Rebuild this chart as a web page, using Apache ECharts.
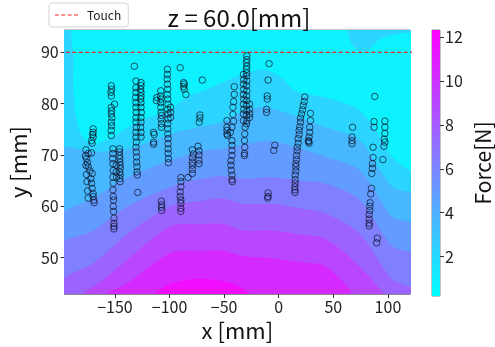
<!DOCTYPE html>
<html>
<head>
<meta charset="utf-8">
<title>z = 60.0[mm]</title>
<script src="https://cdn.jsdelivr.net/npm/echarts@6/dist/echarts.min.js"></script>
<style>html, body { margin: 0; padding: 0; background: #fff; }</style>
</head>
<body>
<div id="main" style="width: 495px; height: 347px;"></div>
<script type="text/javascript">
// axes
var xTicks = [-150, -100, -50, 0, 50, 100];
var yTicks = [50, 60, 70, 80, 90];
var cTicks = [2, 4, 6, 8, 10, 12];
var xRange = [-196, 120.2];
var yRange = [42.9, 94.35];
var forceRange = [0.2, 12.33];
var touchY = 90;

// contourf levels [N]
var levels = [0, 1.5, 3, 4.5, 6, 7.5, 9, 10.5, 12, 13.5];

// region below 1.5 N (closed outline, mm)
var zoneLow = [[-185.1, 97], [-187.8, 88.6], [-187.8, 81.8], [-185.1, 77.0], [-179.6, 73.5], [-169.7, 72.1],
  [-151.5, 73.5], [-138.0, 75.4], [-119.8, 77.3], [-99.0, 78.7], [-85.4, 81.2], [-70.0, 82.4], [-52.0, 84.1],
  [-32.0, 85.8], [-13.9, 86.6], [2.4, 85.1], [16.0, 82.4], [43.2, 81.2], [61.3, 80.0], [74.0, 78.7],
  [88.5, 75.0], [103.9, 69.6], [124, 67.2], [124, 93.2], [103.9, 93.4], [91.2, 92.4], [82.2, 90.5],
  [74.9, 90.1], [65.9, 92.0], [56.8, 97]];
// iso-lines, left to right
var iso3 = [[-200, 71.0], [-169.7, 70.6], [-138.0, 71.2], [-99.0, 74.1], [-70.0, 75.6], [-52.0, 76.4], [-32.0, 78.5],
  [-13.9, 79.3], [11.5, 77.9], [43.2, 75.4], [74.0, 72.9], [103.9, 63.8], [124, 62.0]];
var iso45 = [[-200, 58.0], [-169.7, 61.5], [-138.0, 65.7], [-99.0, 69.0], [-70.0, 70.8], [-52.0, 71.2], [-32.0, 72.1],
  [-6.6, 72.7], [20.6, 71.2], [43.2, 69.6], [74.0, 67.1], [103.9, 58.0], [124, 56.2]];
var iso6 = [[-200, 52.3], [-169.7, 55.3], [-138.0, 60.0], [-99.0, 63.8], [-70.0, 65.4], [-52.0, 65.9], [-32.0, 65.4],
  [-6.6, 65.7], [20.6, 65.0], [43.2, 64.4], [74.0, 61.3], [103.9, 52.2], [124, 50.5]];
var iso75 = [[-200, 45.2], [-169.7, 48.9], [-138.0, 54.7], [-99.0, 60.0], [-70.0, 61.1], [-52.0, 61.5], [-32.0, 60.5],
  [-6.6, 60.5], [20.6, 59.6], [43.2, 58.6], [74.0, 54.7], [103.9, 45.8], [124, 43.6]];
var iso9 = [[-186, 41.5], [-160.6, 45.7], [-138.0, 49.7], [-99.0, 56.1], [-70.0, 56.5], [-52.0, 56.6], [-32.0, 55.3],
  [-6.6, 55.3], [20.6, 54.5], [43.2, 53.6], [74.0, 48.3], [99.5, 41.5]];
var iso105 = [[-168, 41.5], [-138.0, 45.1], [-99.0, 50.9], [-70.0, 51.3], [-52.0, 51.4], [-32.0, 50.3], [-6.6, 49.9],
  [20.6, 49.1], [43.2, 48.3], [72.5, 41.5]];
var iso12 = [[-118, 41.5], [-101.7, 44.7], [-79.1, 45.8], [-52.0, 45.5], [-33.8, 44.1], [-22.5, 41.5]];

// measured points, one array per probe track (x, y in mm)
var trackA = [[-169.9, 75.1], [-169.9, 74.4], [-170.5, 74.0], [-169.9, 73.5], [-171.4, 72.8], [-170.8, 72.3],
  [-174.4, 70.3], [-171.4, 70.4], [-176.0, 69.3], [-175.1, 68.5], [-174.4, 67.7], [-172.9, 66.9], [-170.8, 66.4],
  [-172.0, 65.4], [-171.4, 64.5], [-170.8, 63.5], [-169.9, 62.5], [-169.9, 61.9], [-169.3, 61.2], [-169.0, 60.7],
  [-176.5, 71.0], [-177.0, 69.8], [-176.5, 68.0], [-176.0, 66.2], [-175.5, 64.8], [-175.0, 63.0], [-174.5, 61.6]];
var trackB = [[-153.3, 83.5], [-153.0, 82.8], [-153.6, 82.2], [-153.3, 81.5], [-150.3, 79.9], [-153.3, 79.3],
  [-153.0, 78.6], [-153.3, 78.0], [-152.7, 77.3], [-153.3, 76.4], [-153.0, 75.7], [-153.3, 74.8], [-153.3, 73.8],
  [-151.8, 71.2], [-151.8, 70.3], [-152.1, 69.3], [-151.8, 68.3], [-151.5, 67.0], [-151.8, 65.7], [-151.5, 64.5],
  [-151.8, 63.2], [-151.5, 61.9], [-151.2, 61.2], [-151.5, 60.0], [-151.2, 59.0], [-150.9, 57.7], [-150.9, 56.7],
  [-150.9, 56.1], [-150.9, 55.6], [-145.8, 71.2], [-145.8, 70.6], [-145.8, 69.9], [-145.5, 69.3], [-145.5, 68.6],
  [-145.2, 68.0], [-145.2, 67.4], [-145.5, 66.7], [-145.2, 66.1], [-145.5, 65.4], [-145.2, 64.8], [-148.8, 68.0],
  [-148.8, 66.7], [-148.5, 65.7]];
var trackC = [[-132.2, 87.3], [-130.7, 84.4], [-126.1, 84.1], [-126.1, 83.5], [-126.4, 82.8], [-126.1, 82.2],
  [-126.1, 81.5], [-126.4, 80.9], [-126.1, 80.2], [-126.1, 79.3], [-125.8, 78.3], [-126.1, 77.3], [-126.1, 76.4],
  [-126.4, 75.4], [-126.1, 74.4], [-126.1, 73.5], [-130.7, 83.1], [-130.7, 82.2], [-131.0, 81.2], [-130.7, 80.2],
  [-130.7, 79.3], [-130.4, 78.3], [-130.7, 77.3], [-130.7, 76.4], [-130.4, 75.4], [-130.7, 74.4], [-130.7, 73.5],
  [-130.4, 72.5], [-130.7, 71.5], [-130.4, 70.6], [-130.1, 69.6], [-130.1, 68.6], [-129.8, 67.7], [-129.8, 66.7],
  [-129.5, 66.1], [-129.1, 62.7]];
var trackD = [[-114.6, 74.4], [-114.0, 74.0], [-114.6, 72.5], [-114.6, 72.1]];
var trackE = [[-101.9, 86.7], [-101.9, 85.7], [-102.2, 84.8], [-101.9, 83.8], [-101.6, 82.8], [-101.9, 81.8],
  [-101.6, 80.9], [-101.3, 79.9], [-101.6, 78.9], [-101.3, 78.0], [-101.3, 77.0], [-101.6, 76.1], [-101.6, 75.1],
  [-101.6, 74.1], [-101.3, 73.2], [-101.3, 72.2], [-101.3, 71.2], [-101.3, 70.3], [-101.0, 69.3], [-101.0, 68.5],
  [-108.0, 82.5], [-108.3, 81.5], [-107.7, 80.9], [-108.0, 80.2], [-108.0, 79.3], [-107.7, 78.3], [-107.4, 77.7],
  [-107.7, 77.0], [-107.4, 76.1], [-107.4, 75.4], [-111.6, 81.2], [-111.9, 80.6], [-99.0, 79.3], [-99.0, 78.3],
  [-99.0, 77.3], [-107.4, 61.0], [-107.1, 60.3], [-107.4, 59.8], [-107.1, 59.2]];
var trackF = [[-90.2, 87.0], [-87.1, 84.1], [-86.5, 83.8], [-87.1, 83.3], [-86.5, 82.8], [-85.0, 81.8],
  [-89.6, 65.6], [-89.6, 64.8], [-89.6, 63.8], [-90.2, 62.8], [-90.2, 61.9], [-89.6, 61.2], [-89.6, 60.6],
  [-89.6, 59.6], [-89.6, 59.0]];
var trackG = [[-70.0, 84.6], [-72.2, 77.8], [-72.2, 77.2], [-72.8, 76.4], [-79.1, 71.0], [-78.2, 70.2], [-79.1, 69.5],
  [-79.1, 68.6], [-79.1, 68.0], [-79.1, 67.2], [-79.1, 66.4], [-83.0, 65.6], [-73.9, 71.7], [-73.0, 70.8],
  [-73.0, 70.0], [-73.0, 69.0], [-73.0, 68.3]];
var trackH = [[-40.7, 83.3], [-40.7, 81.8], [-41.3, 80.4], [-41.9, 79.3], [-41.9, 77.9], [-41.3, 76.6], [-42.8, 75.4],
  [-44.3, 74.4], [-47.4, 76.7], [-47.4, 75.4], [-47.4, 74.8], [-47.4, 74.1], [-46.8, 73.8], [-42.8, 72.8],
  [-42.8, 71.9], [-42.8, 70.9], [-42.8, 69.9], [-43.7, 68.9], [-43.7, 68.0], [-43.4, 67.0], [-42.8, 66.1],
  [-42.8, 65.2], [-42.5, 64.8]];
var trackI = [[-29.2, 89.3], [-29.2, 88.6], [-29.5, 88.0], [-29.2, 87.3], [-29.5, 86.7], [-29.2, 86.0], [-29.5, 85.4],
  [-29.2, 84.4], [-29.5, 83.5], [-29.2, 82.5], [-29.5, 81.5], [-29.2, 80.6], [-29.5, 79.6], [-29.2, 78.6],
  [-29.5, 77.7], [-29.2, 76.7], [-29.5, 76.1], [-32.3, 85.7], [-32.0, 84.7], [-32.3, 83.8], [-32.0, 82.8],
  [-32.3, 81.8], [-32.0, 80.9], [-32.3, 79.9], [-32.0, 78.9], [-32.3, 78.0], [-32.3, 76.7], [-30.8, 75.4],
  [-31.1, 74.1], [-31.4, 72.8], [-31.1, 71.5], [-31.4, 70.3], [-31.4, 69.9], [-26.8, 79.9], [-26.8, 78.9],
  [-26.5, 78.0], [-26.8, 77.3]];
var trackJ = [[-8.8, 87.8], [-9.7, 84.6], [-10.5, 81.5], [-10.5, 80.9], [-11.1, 78.9], [-11.1, 78.3], [-3.6, 71.9],
  [-4.5, 70.9], [-9.7, 62.6], [-9.7, 61.9], [-10.2, 61.6]];
var trackK = [[23.9, 81.3], [23.3, 80.4], [22.4, 79.6], [21.8, 78.8], [20.8, 78.0], [19.9, 77.2], [19.9, 76.4],
  [19.3, 75.5], [18.7, 74.8], [18.7, 74.0], [17.8, 73.2], [17.8, 72.3], [16.9, 71.5], [16.9, 70.8], [16.3, 69.9],
  [16.3, 69.1], [15.7, 68.3], [15.7, 67.7], [15.7, 66.9], [15.1, 66.1], [15.1, 65.2], [15.1, 64.5], [14.8, 63.8],
  [14.8, 63.2], [14.8, 62.7]];
var trackL = [[29.0, 78.1], [29.0, 76.7], [28.4, 75.4], [28.4, 74.4], [27.8, 73.5], [27.2, 72.8], [27.8, 72.3],
  [27.5, 72.6]];
var trackM = [[67.6, 75.4], [67.1, 73.5], [67.1, 72.8], [67.1, 72.2]];
var trackN = [[87.9, 81.4], [87.3, 76.5], [87.3, 75.4], [86.4, 71.5], [86.4, 69.5], [85.8, 68.3], [85.8, 67.4],
  [85.2, 66.4], [84.9, 63.5], [84.3, 62.4], [83.7, 60.7], [83.4, 60.0], [83.4, 59.2], [82.8, 58.4], [82.8, 57.5],
  [82.8, 56.7], [82.8, 56.2], [90.3, 53.8], [89.7, 52.9]];
var trackO = [[97.2, 76.6], [97.2, 75.4], [97.2, 74.2], [96.6, 73.1], [97.2, 72.5], [96.3, 71.7], [95.4, 69.1]];

var tracks = [trackA, trackB, trackC, trackD, trackE, trackF, trackG, trackH, trackI, trackJ, trackK, trackL,
  trackM, trackN, trackO];
var points = [].concat.apply([], tracks);

// matplotlib "cool"
function cool(t) {
  return 'rgb(' + Math.round(255 * t) + ',' + Math.round(255 * (1 - t)) + ',255)';
}
function bandColor(i) {
  var top = levels[levels.length - 1];
  return cool((levels[i] + levels[i + 1]) / 2 / top);
}

var below = yRange[0] - 6;
function fromLine(line) {
  return line.concat([[line[line.length - 1][0], below], [line[0][0], below]]);
}
var layers = [
  { band: 1, pts: [[xRange[0] - 5, below], [xRange[1] + 5, below], [xRange[1] + 5, yRange[1] + 5], [xRange[0] - 5, yRange[1] + 5]], smooth: 0 },
  { band: 0, pts: zoneLow, smooth: 0.3 },
  { band: 2, pts: fromLine(iso3), smooth: 0.3 },
  { band: 3, pts: fromLine(iso45), smooth: 0.3 },
  { band: 4, pts: fromLine(iso6), smooth: 0.3 },
  { band: 5, pts: fromLine(iso75), smooth: 0.3 },
  { band: 6, pts: fromLine(iso9), smooth: 0.3 },
  { band: 7, pts: fromLine(iso105), smooth: 0.3 },
  { band: 8, pts: fromLine(iso12), smooth: 0.3 }
];

var font = 'Noto Sans CJK JP';
var red = '#ee2a2a';
var myChart = echarts.init(document.getElementById('main'));

var option = {
  animation: false,
  textStyle: { fontFamily: font },
  title: {
    text: 'z = 60.0[mm]', left: 234, top: 1, textAlign: 'center',
    textStyle: { fontSize: 24, fontWeight: 'normal', color: '#111', fontFamily: font }
  },
  legend: {
    data: [{ name: 'Touch', icon: 'path://M0,0h4v1h-4z M6.5,0h4v1h-4z M13,0h4v1h-4z M19.5,0h4v1h-4z' }],
    left: 49, top: 3, itemWidth: 23, itemHeight: 1.6, itemGap: 6, padding: [6, 7, 6, 6],
    borderColor: '#d4d4d4', borderWidth: 1, borderRadius: 3,
    itemStyle: { color: red },
    textStyle: { fontSize: 12, color: '#222', fontFamily: font, padding: [0, 0, 0, 4] }
  },
  grid: [
    { left: 61, top: 30, width: 349, height: 266, show: true, borderColor: '#888', borderWidth: 1 },
    { left: 432, top: 30, width: 12, height: 266, show: true, borderColor: '#888', borderWidth: 1 }
  ],
  xAxis: [{
    type: 'value', gridIndex: 0, min: xRange[0], max: xRange[1],
    axisLine: { show: true, onZero: false, lineStyle: { color: '#888' } },
    axisTick: { show: true, customValues: xTicks, length: 4, lineStyle: { color: '#333' } },
    axisLabel: {
      customValues: xTicks, fontSize: 16, color: '#222', margin: 5,
      formatter: function (v) { return String(v).replace('-', '\u2212'); }
    },
    splitLine: { show: false },
    name: 'x [mm]', nameLocation: 'middle', nameGap: 24,
    nameTextStyle: { fontSize: 22, color: '#111' }
  }, {
    type: 'category', gridIndex: 1, data: ['F'], show: false
  }],
  yAxis: [{
    type: 'value', gridIndex: 0, min: yRange[0], max: yRange[1],
    axisLine: { show: true, onZero: false, lineStyle: { color: '#888' } },
    axisTick: { show: true, customValues: yTicks, length: 4, lineStyle: { color: '#333' } },
    axisLabel: { customValues: yTicks, fontSize: 16, color: '#222', margin: 6 },
    splitLine: { show: false },
    name: 'y [mm]', nameLocation: 'middle', nameGap: 31, nameRotate: 90,
    nameTextStyle: { fontSize: 22, color: '#111' }
  }, {
    type: 'value', gridIndex: 1, min: forceRange[0], max: forceRange[1], position: 'right',
    axisLine: { show: false },
    axisTick: { show: true, customValues: cTicks, length: 4, lineStyle: { color: '#333' } },
    axisLabel: { customValues: cTicks, fontSize: 16, color: '#222', margin: 5 },
    splitLine: { show: false },
    name: 'Force[N]', nameLocation: 'middle', nameGap: 33, nameRotate: 90,
    nameTextStyle: { fontSize: 21, color: '#111' }
  }],
  series: [
    {
      type: 'custom', xAxisIndex: 0, yAxisIndex: 0, clip: true, silent: true, z: 1,
      data: layers.map(function (l, i) { return [i, 60]; }),
      renderItem: function (params, api) {
        var layer = layers[params.dataIndex];
        return {
          type: 'polygon',
          shape: { points: layer.pts.map(function (p) { return api.coord(p); }), smooth: layer.smooth },
          style: { fill: bandColor(layer.band), stroke: null }
        };
      }
    },
    {
      name: 'Touch', type: 'line', xAxisIndex: 0, yAxisIndex: 0, clip: true, z: 3,
      data: [[xRange[0] - 5, touchY], [xRange[1] + 5, touchY]],
      symbol: 'none',
      lineStyle: { color: red, width: 1.3, type: [4, 2.5] },
      itemStyle: { color: red }
    },
    {
      type: 'scatter', xAxisIndex: 0, yAxisIndex: 0, z: 4,
      data: points, symbolSize: 6.5,
      itemStyle: { color: 'rgba(0,0,0,0)', borderColor: 'rgba(10,10,30,0.85)', borderWidth: 1 }
    },
    {
      type: 'bar', xAxisIndex: 1, yAxisIndex: 1, barWidth: '100%', silent: true,
      data: [forceRange[1]],
      itemStyle: {
        color: new echarts.graphic.LinearGradient(0, 0, 0, 1, [
          { offset: 0, color: cool(1) }, { offset: 1, color: cool(0) }
        ])
      }
    }
  ]
};
myChart.setOption(option);
</script>
</body>
</html>
